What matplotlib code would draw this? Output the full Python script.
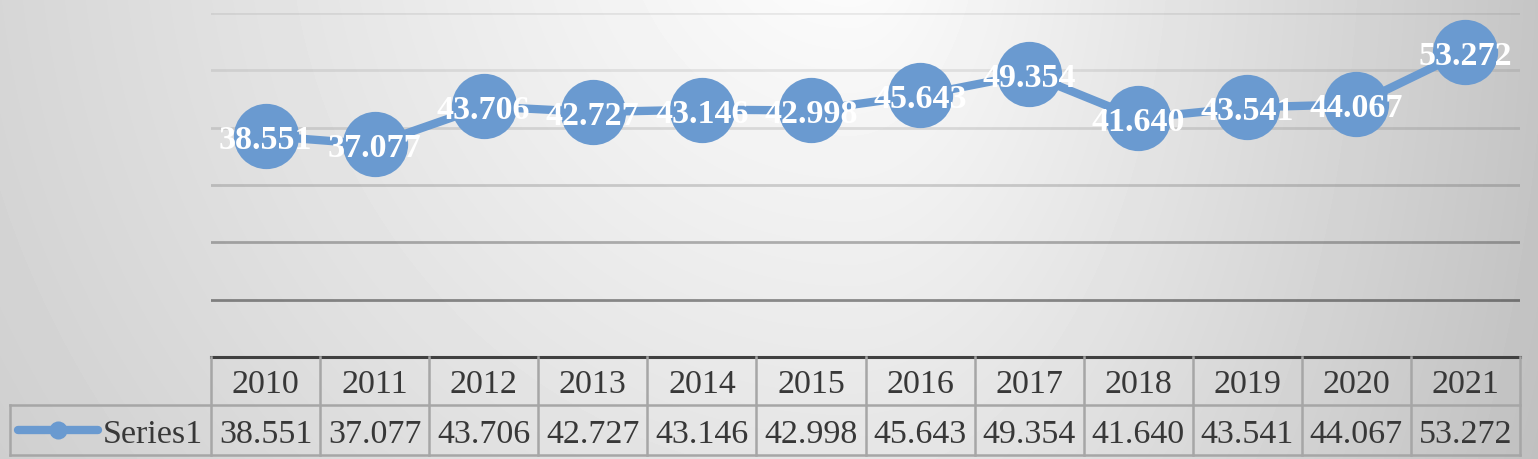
import numpy as np
import matplotlib
matplotlib.use("Agg")
import matplotlib.pyplot as plt
import matplotlib.transforms as mtransforms

plt.rcParams['font.family'] = ['Liberation Serif', 'DejaVu Serif']

# data
years = ['2010', '2011', '2012', '2013', '2014', '2015',
         '2016', '2017', '2018', '2019', '2020', '2021']
series1 = [38.551, 37.077, 43.706, 42.727, 43.146, 42.998,
           45.643, 49.354, 41.640, 43.541, 44.067, 53.272]
seriesName = 'Series1'
yTicks = [0, 10, 20, 30, 40, 50, 60]

lineColor = '#6A9AD0'
textColor = '#383838'
borderColor = '#a6a6a6'

W, H = 1538, 460
fig = plt.figure(figsize=(W / 100, H / 100), dpi=100)

# background gradient (white near top middle, grey toward edges)
xx, yy = np.meshgrid(np.arange(W), np.arange(H))
dx = xx - 850.0
rx = np.where(dx < 0, 1600.0, 910.0)
r = np.sqrt((dx / rx) ** 2 + ((yy + 100.0) / 1650.0) ** 2)
shade = 1.0 - 0.30 * np.clip(r, 0, 1)
bg = fig.add_axes([0, 0, 1, 1], zorder=-10)
bg.imshow(shade, cmap='gray', vmin=0, vmax=1, aspect='auto', interpolation='bilinear')
bg.axis('off')

# plot area in pixels: x 211..1520, y 14..358
left, right, top, bottom = 211, 1520, 14, 358
ax = fig.add_axes([left / W, 1 - bottom / H, (right - left) / W, (bottom - top) / H])
ax.patch.set_alpha(0)
x = np.arange(len(years))
ax.set_xlim(-0.5, len(years) - 0.5)
ax.set_ylim(yTicks[0], yTicks[-1])

#gridlines, darker toward the bottom
gridAlpha = [0.0, 0.42, 0.28, 0.16, 0.11, 0.08, 0.07]
for v, a in zip(yTicks[1:], gridAlpha[1:]):
    ax.axhline(v, color='black', alpha=a, lw=2.0, zorder=1)
ax.axhline(0, color='#404040', lw=2.2, zorder=2, clip_on=False)

for s in ax.spines.values():
    s.set_visible(False)
ax.set_xticks([])
ax.set_yticks([])

ax.plot(x, series1, color=lineColor, lw=6, marker='o', markersize=47,
        markeredgewidth=0, zorder=3, clip_on=False)
for xi, v in zip(x, series1):
    ax.text(xi, v, f'{v:.3f}', color='white', fontsize=24.5, fontweight='bold',
            ha='center', va='center_baseline', zorder=4, clip_on=False)

# data table below the axis
axH = bottom - top
axW = right - left
rowMid = -48 / axH
rowBot = -98 / axH
trans = mtransforms.blended_transform_factory(ax.transData, ax.transAxes)
for k in range(len(years) + 1):
    ax.plot([k - 0.5, k - 0.5], [0, rowBot], transform=trans, color=borderColor,
            lw=1.8, clip_on=False, zorder=2)
legLeft = (10 - left) / axW
for yv in (rowMid, rowBot):
    ax.plot([legLeft, 1], [yv, yv], transform=ax.transAxes, color=borderColor,
            lw=1.8, clip_on=False, zorder=2)
ax.plot([legLeft, legLeft], [rowMid, rowBot], transform=ax.transAxes,
        color=borderColor, lw=1.8, clip_on=False, zorder=2)

for xi, yr, v in zip(x, years, series1):
    ax.text(xi, -23 / axH, yr, transform=trans, ha='center', va='center_baseline',
            fontsize=24.5, color=textColor)
    ax.text(xi, -73 / axH, f'{v:.3f}', transform=trans, ha='center',
            va='center_baseline', fontsize=24.5, color=textColor)

# legend key inside the table
ax.plot([(18 - left) / axW, (98 - left) / axW], [-73 / axH, -73 / axH],
        transform=ax.transAxes, color=lineColor, lw=6, solid_capstyle='round',
        clip_on=False)
ax.plot([(58 - left) / axW], [-73 / axH], transform=ax.transAxes, marker='o',
        markersize=13, color=lineColor, markeredgewidth=0, clip_on=False)
ax.text((103 - left) / axW, -73 / axH, seriesName, transform=ax.transAxes,
        ha='left', va='center_baseline', fontsize=24.5, color=textColor)

fig.savefig('out.png', dpi=100)
